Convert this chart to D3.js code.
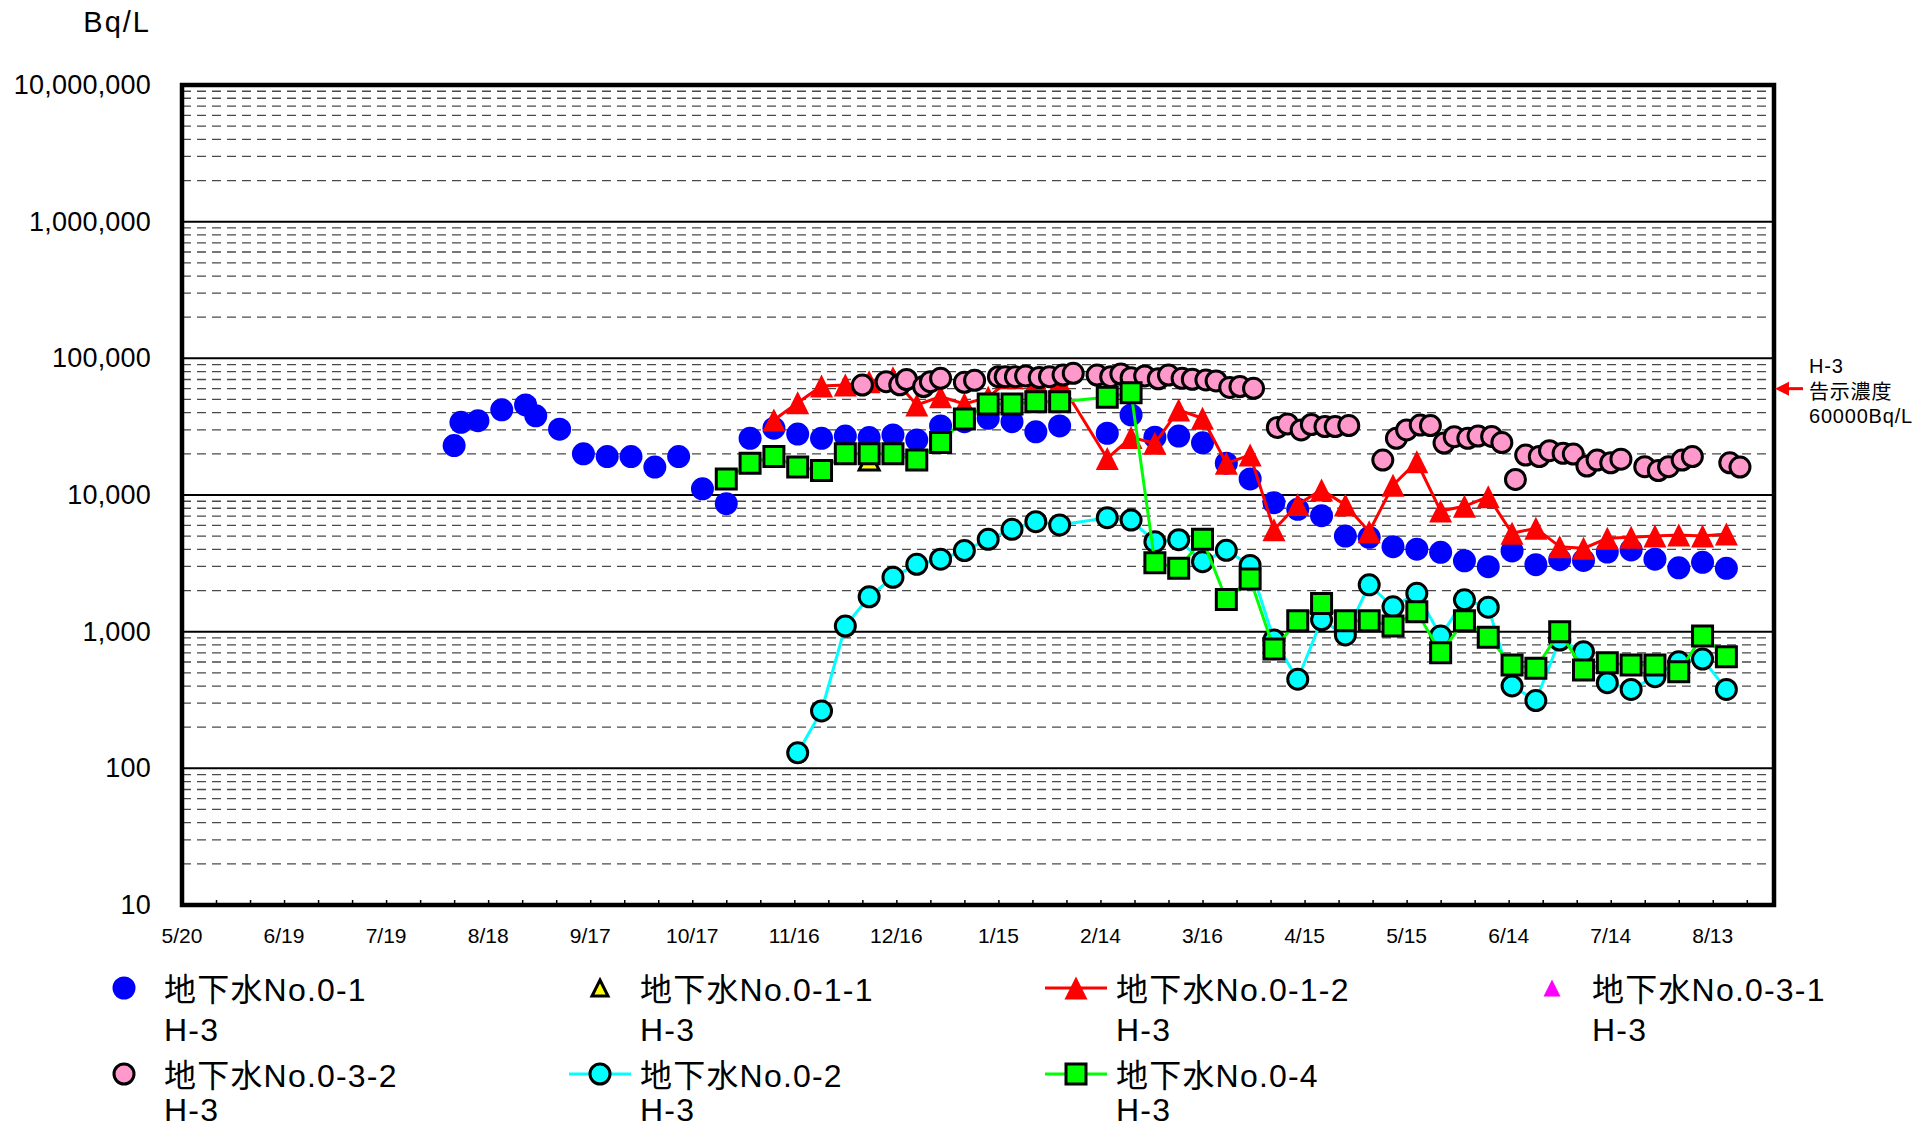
<!DOCTYPE html>
<html>
<head>
<meta charset="utf-8">
<script src="https://cdn.jsdelivr.net/npm/d3@7"></script>
<style>
  body { margin: 0; background: #fff; }
  svg text { font-family: "Liberation Sans", Arial, "Noto Sans CJK JP", sans-serif; fill: #000; }
</style>
</head>
<body>
<svg id="chart" width="1930" height="1131"></svg>
<script>
var xStart = "2013-05-20", xEnd = "2014-08-31";
var xTickDates = ["2013-05-20","2013-06-19","2013-07-19","2013-08-18","2013-09-17","2013-10-17","2013-11-16","2013-12-16",
                  "2014-01-15","2014-02-14","2014-03-16","2014-04-15","2014-05-15","2014-06-14","2014-07-14","2014-08-13"];
var yTickValues = [10, 100, 1000, 10000, 100000, 1000000, 10000000];
var yTickLabels = ["10", "100", "1,000", "10,000", "100,000", "1,000,000", "10,000,000"];
var limitValue = 60000;

// 地下水No.0-1
var well01 = [
  ["2013-08-08",23000],["2013-08-10",34000],["2013-08-15",35000],["2013-08-22",42000],["2013-08-29",45600],["2013-09-01",38000],
  ["2013-09-08",30300],["2013-09-15",20000],["2013-09-22",19100],["2013-09-29",19100],["2013-10-06",16000],["2013-10-13",19100],
  ["2013-10-20",11100],["2013-10-27",8640],["2013-11-03",26000],["2013-11-10",30800],["2013-11-17",27900],["2013-11-24",26000],
  ["2013-12-01",27000],["2013-12-08",26300],["2013-12-15",27500],["2013-12-22",25300],["2013-12-29",32000],["2014-01-05",34400],
  ["2014-01-12",36400],["2014-01-19",34400],["2014-01-26",29000],["2014-02-02",32000],["2014-02-16",28300],["2014-02-23",38500],
  ["2014-03-02",26500],["2014-03-09",27000],["2014-03-16",24100],["2014-03-23",17100],["2014-03-30",13100],["2014-04-06",8790],
  ["2014-04-13",7860],["2014-04-20",7060],["2014-04-27",5010],["2014-05-04",4900],["2014-05-11",4190],["2014-05-18",4010],
  ["2014-05-25",3810],["2014-06-01",3300],["2014-06-08",2990],["2014-06-15",3900],["2014-06-22",3090],["2014-06-29",3360],
  ["2014-07-06",3320],["2014-07-13",3820],["2014-07-20",3960],["2014-07-27",3390],["2014-08-03",2930],["2014-08-10",3220],
  ["2014-08-17",2910]
];
// 地下水No.0-1-1
var well011 = [["2013-12-08",18000]];
// 地下水No.0-1-2
var well012 = [
  ["2013-11-10",35400],["2013-11-17",47300],["2013-11-24",62800],["2013-12-01",63800],["2013-12-08",67500],["2013-12-15",72000],
  ["2013-12-22",45600],["2013-12-29",52400],["2014-01-05",46400],["2014-01-12",52000],["2014-01-19",72000],["2014-01-26",68000],
  ["2014-02-02",68000],["2014-02-16",18500],["2014-02-23",26400],["2014-03-02",23900],["2014-03-09",41900],["2014-03-16",36400],
  ["2014-03-23",17100],["2014-03-30",19600],["2014-04-06",5570],["2014-04-13",8520],["2014-04-20",10900],["2014-04-27",8450],
  ["2014-05-04",5390],["2014-05-11",11800],["2014-05-18",17500],["2014-05-25",7640],["2014-06-01",8270],["2014-06-08",9720],
  ["2014-06-15",5250],["2014-06-22",5710],["2014-06-29",4190],["2014-07-06",4070],["2014-07-13",4820],["2014-07-20",4910],
  ["2014-07-27",5010],["2014-08-03",5100],["2014-08-10",5010],["2014-08-17",5190]
];
// 地下水No.0-3-1
var well031 = [];
// 地下水No.0-3-2
var well032 = [
  ["2013-12-06",63800],["2013-12-13",67500],["2013-12-17",64000],["2013-12-19",70000],["2013-12-24",62100],["2013-12-26",67500],
  ["2013-12-29",71400],["2014-01-05",66800],["2014-01-08",69000],["2014-01-15",73400],["2014-01-17",73400],["2014-01-20",73400],
  ["2014-01-23",74300],["2014-01-27",72400],["2014-01-30",73400],["2014-02-03",75500],["2014-02-06",77700],["2014-02-13",75500],
  ["2014-02-17",73400],["2014-02-20",76800],["2014-02-23",72200],["2014-02-27",74300],["2014-03-03",70900],["2014-03-06",75500],
  ["2014-03-10",71400],["2014-03-13",70300],["2014-03-17",69500],["2014-03-20",68300],["2014-03-24",61300],["2014-03-27",62100],
  ["2014-03-31",60400],["2014-04-07",31200],["2014-04-10",33100],["2014-04-14",29900],["2014-04-17",32800],["2014-04-21",31700],
  ["2014-04-24",31700],["2014-04-28",32200],["2014-05-08",18000],["2014-05-12",26000],["2014-05-15",29900],["2014-05-19",32500],
  ["2014-05-22",32200],["2014-05-26",24000],["2014-05-29",26700],["2014-06-02",26000],["2014-06-05",27000],["2014-06-09",26800],
  ["2014-06-12",24200],["2014-06-16",13000],["2014-06-19",19600],["2014-06-23",19100],["2014-06-26",21100],["2014-06-30",20200],
  ["2014-07-03",19950],["2014-07-07",16300],["2014-07-10",18000],["2014-07-14",17200],["2014-07-17",18300],["2014-07-24",16100],
  ["2014-07-28",15100],["2014-07-31",16100],["2014-08-04",18000],["2014-08-07",19100],["2014-08-18",17200],["2014-08-21",16000]
];
// 地下水No.0-2
var well02 = [
  ["2013-11-17",130],["2013-11-24",263],["2013-12-01",1100],["2013-12-08",1800],["2013-12-15",2500],["2013-12-22",3110],
  ["2013-12-29",3390],["2014-01-05",3920],["2014-01-12",4740],["2014-01-19",5610],["2014-01-26",6380],["2014-02-02",6040],
  ["2014-02-16",6820],["2014-02-23",6560],["2014-03-02",4550],["2014-03-09",4710],["2014-03-16",3250],["2014-03-23",3940],
  ["2014-03-30",3050],["2014-04-06",869],["2014-04-13",449],["2014-04-20",1220],["2014-04-27",946],["2014-05-04",2200],
  ["2014-05-11",1520],["2014-05-18",1910],["2014-05-25",931],["2014-06-01",1710],["2014-06-08",1510],["2014-06-15",401],
  ["2014-06-22",313],["2014-06-29",869],["2014-07-06",713],["2014-07-13",423],["2014-07-20",378],["2014-07-27",468],
  ["2014-08-03",602],["2014-08-10",631],["2014-08-17",378]
];
// 地下水No.0-4
var well04 = [
  ["2013-10-27",13100],["2013-11-03",17100],["2013-11-10",19100],["2013-11-17",16000],["2013-11-24",15100],["2013-12-01",20000],
  ["2013-12-08",20000],["2013-12-15",20000],["2013-12-22",18000],["2013-12-29",24200],["2014-01-05",36000],["2014-01-12",46400],
  ["2014-01-19",46400],["2014-01-26",48200],["2014-02-02",48200],["2014-02-16",51900],["2014-02-23",56100],["2014-03-02",3200],
  ["2014-03-09",2910],["2014-03-16",4740],["2014-03-23",1720],["2014-03-30",2430],["2014-04-06",746],["2014-04-13",1200],
  ["2014-04-20",1610],["2014-04-27",1200],["2014-05-04",1200],["2014-05-11",1100],["2014-05-18",1400],["2014-05-25",702],
  ["2014-06-01",1200],["2014-06-08",910],["2014-06-15",570],["2014-06-22",540],["2014-06-29",1000],["2014-07-06",525],
  ["2014-07-13",593],["2014-07-20",570],["2014-07-27",570],["2014-08-03",509],["2014-08-10",931],["2014-08-17",656]
];

var parseDate = d3.utcParse("%Y-%m-%d");
var fmtTick = d3.utcFormat("%-m/%-d");

var series = [
  {name: "地下水No.0-1",   data: well01,  shape: "circle",   fill: "#0000ff", stroke: "none", line: null},
  {name: "地下水No.0-1-1", data: well011, shape: "triangle", fill: "#ffff00", stroke: "#000", line: null, legSize: 19},
  {name: "地下水No.0-1-2", data: well012, shape: "triangle", fill: "#ff0000", stroke: "none", line: "#ff0000"},
  {name: "地下水No.0-3-1", data: well031, shape: "triangle", fill: "#ff00ff", stroke: "none", line: null, legSize: 17},
  {name: "地下水No.0-3-2", data: well032, shape: "circle",   fill: "#ff99cc", stroke: "#000", line: null},
  {name: "地下水No.0-2",   data: well02,  shape: "circle",   fill: "#00ffff", stroke: "#000", line: "#00ffff"},
  {name: "地下水No.0-4",   data: well04,  shape: "square",   fill: "#00ff00", stroke: "#000", line: "#00ff00"}
];

var svg = d3.select("#chart");
var plot = {left: 182, top: 85, right: 1774, bottom: 905};

var x = d3.scaleUtc().domain([parseDate(xStart), parseDate(xEnd)]).range([plot.left, plot.right]);
var y = d3.scaleLog().domain([10, 1e7]).range([plot.bottom, plot.top]);

// minor grid (2..9 of every decade)
var minor = [];
yTickValues.slice(0, -1).forEach(function(d) {
    for (var k = 2; k < 10; k++) minor.push(d * k);
});
svg.append("g").selectAll("line").data(minor).enter().append("line")
    .attr("x1", plot.left).attr("x2", plot.right)
    .attr("y1", function(d) { return y(d); }).attr("y2", function(d) { return y(d); })
    .attr("stroke", "#4a4a4a").attr("stroke-width", 1.3).attr("stroke-dasharray", "9,6");

svg.append("g").selectAll("line").data(yTickValues).enter().append("line")
    .attr("x1", plot.left).attr("x2", plot.right)
    .attr("y1", function(d) { return y(d); }).attr("y2", function(d) { return y(d); })
    .attr("stroke", "#000").attr("stroke-width", 2);

// x ticks every 10 days, pointing up into the plot
var xAxis = d3.axisBottom(x)
    .tickValues(d3.utcDay.range(parseDate(xStart), parseDate(xEnd), 10))
    .tickSizeInner(-5).tickSizeOuter(0).tickFormat("");
svg.append("g").attr("transform", "translate(0," + plot.bottom + ")").call(xAxis)
    .call(function(g) { g.select(".domain").remove(); })
    .selectAll("line").attr("stroke", "#000").attr("stroke-width", 1.5);

svg.append("g").selectAll("text").data(xTickDates).enter().append("text")
    .attr("x", function(d) { return x(parseDate(d)); }).attr("y", 943)
    .attr("text-anchor", "middle").attr("font-size", 21)
    .text(function(d) { return fmtTick(parseDate(d)); });

var yAxis = d3.axisLeft(y).tickValues(yTickValues).tickSize(0)
    .tickFormat(function(d, i) { return yTickLabels[i]; });
svg.append("g").attr("transform", "translate(151,0)").call(yAxis)
    .call(function(g) { g.select(".domain").remove(); })
    .selectAll("text").attr("x", 0).attr("font-size", 27).attr("letter-spacing", 0.2)
    .style("font-family", "'Liberation Sans', Arial, sans-serif").attr("fill", "#000");

svg.append("text").attr("x", 151).attr("y", 32).attr("text-anchor", "end")
    .attr("font-size", 29).attr("letter-spacing", 2).text("Bq/L");

svg.append("rect")
    .attr("x", plot.left).attr("y", plot.top)
    .attr("width", plot.right - plot.left).attr("height", plot.bottom - plot.top)
    .attr("fill", "none").attr("stroke", "#000").attr("stroke-width", 4.5);

function markerPath(shape, size) {
    var h = size / 2;
    if (shape == "triangle") return "M0," + (-h) + "L" + h + "," + h + "L" + (-h) + "," + h + "Z";
    if (shape == "square") return "M" + (-h) + "," + (-h) + "H" + h + "V" + h + "H" + (-h) + "Z";
    return null;
}

function drawMarker(g, s, size) {
    if (s.shape == "circle") {
        var r = s.stroke == "none" ? size / 2 : size / 2 - 1.5;
        return g.append("circle").attr("r", r)
            .attr("fill", s.fill).attr("stroke", s.stroke).attr("stroke-width", 3);
    }
    var sz = (s.stroke == "none") ? size : size - 3;
    return g.append("path").attr("d", markerPath(s.shape, sz))
        .attr("fill", s.fill).attr("stroke", s.stroke).attr("stroke-width", 3)
        .attr("stroke-linejoin", "miter");
}

var line = d3.line()
    .x(function(d) { return x(parseDate(d[0])); })
    .y(function(d) { return y(d[1]); });

series.forEach(function(s) {
    var g = svg.append("g");
    if (s.line && s.data.length) {
        g.append("path").datum(s.data).attr("d", line)
            .attr("fill", "none").attr("stroke", s.line).attr("stroke-width", 3);
    }
    s.data.forEach(function(d) {
        var m = g.append("g").attr("transform", "translate(" + x(parseDate(d[0])) + "," + y(d[1]) + ")");
        drawMarker(m, s, 23);
    });
});

// 告示濃度 marker on the right
var yLim = y(limitValue);
svg.append("line").attr("x1", 1803).attr("x2", 1786).attr("y1", yLim).attr("y2", yLim)
    .attr("stroke", "#ff0000").attr("stroke-width", 3);
svg.append("path").attr("d", "M1775," + yLim + "L1789," + (yLim - 7) + "L1789," + (yLim + 7) + "Z")
    .attr("fill", "#ff0000");
var note = svg.append("text").attr("x", 1809).attr("font-size", 20).attr("letter-spacing", 0.8);
note.append("tspan").attr("x", 1809).attr("y", 373).text("H-3");
note.append("tspan").attr("x", 1809).attr("y", 399).text("告示濃度");
note.append("tspan").attr("x", 1809).attr("y", 423).text("60000Bq/L");

// legend
var legend = svg.append("g");
series.forEach(function(s, i) {
    var col = i % 4, row = Math.floor(i / 4);
    var mx = 124 + col * 476, my = 988 + row * 86;
    var g = legend.append("g");
    if (s.line) {
        g.append("line").attr("x1", mx - 31).attr("x2", mx + 31).attr("y1", my).attr("y2", my)
            .attr("stroke", s.line).attr("stroke-width", 3);
    }
    var m = g.append("g").attr("transform", "translate(" + mx + "," + my + ")");
    drawMarker(m, s, s.legSize || 23);
    g.append("text").attr("x", mx + 40).attr("y", 1001 + row * 86)
        .attr("font-size", 32).attr("letter-spacing", 1.2).text(s.name);
    g.append("text").attr("x", mx + 40).attr("y", 1041 + row * 80)
        .attr("font-size", 32).attr("letter-spacing", 1.2).text("H-3");
});
</script>
</body>
</html>
